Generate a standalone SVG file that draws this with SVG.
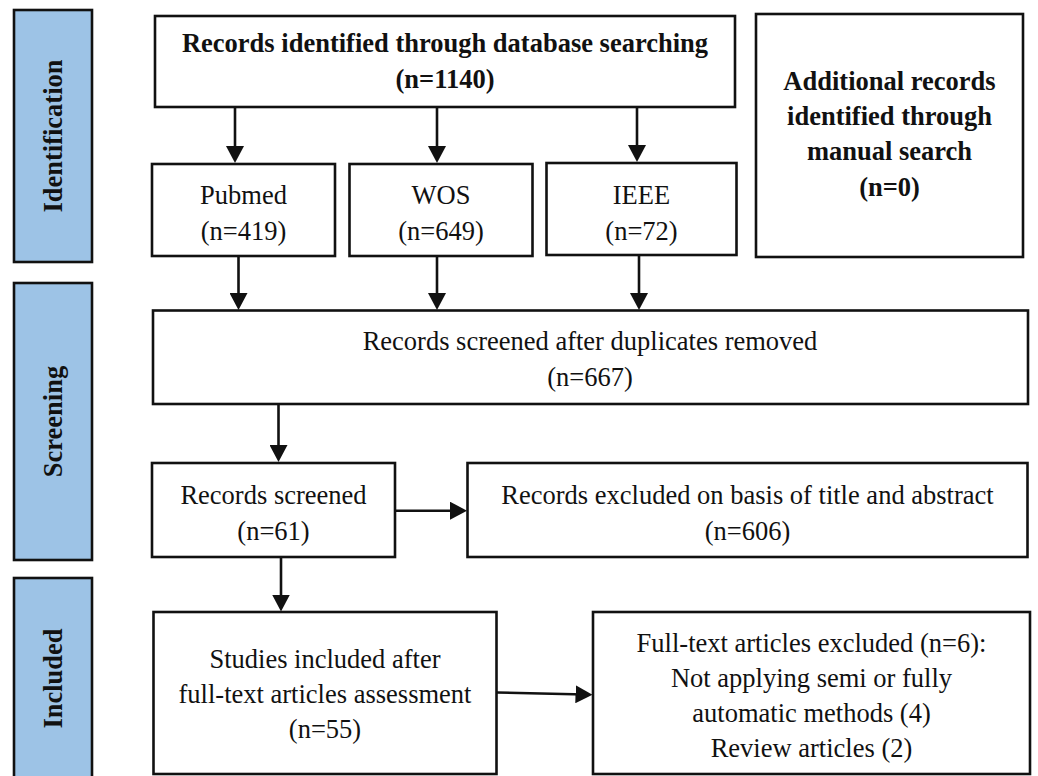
<svg xmlns="http://www.w3.org/2000/svg" width="1038" height="776" viewBox="0 0 1038 776">
  <style>
    .box { fill: #ffffff; stroke: #111111; stroke-width: 2.6; }
    .bar { fill: #9dc3e6; stroke: #111111; stroke-width: 2.6; }
    .t { font-family: "Liberation Serif", "Times New Roman", serif; font-size: 26.5px; fill: #111111; text-anchor: middle; }
    .b { font-weight: bold; }
    .conn { stroke: #111111; stroke-width: 2.6; fill: none; marker-end: url(#arrow); }
  </style>
  <defs>
    <marker id="arrow" markerUnits="userSpaceOnUse" viewBox="0 0 17 18" refX="9" refY="9" markerWidth="17" markerHeight="18" orient="auto">
      <path d="M0,0 L17,9 L0,18 z" fill="#111111"/>
    </marker>
  </defs>
  <rect width="1038" height="776" fill="#ffffff"/>

  <g id="phase-identification">
    <rect class="bar" x="14" y="10" width="78" height="252"/>
    <text class="t b" transform="translate(61.5,136) rotate(-90)">Identification</text>
  </g>
  <g id="phase-screening">
    <rect class="bar" x="14" y="283" width="78" height="277"/>
    <text class="t b" transform="translate(61.5,421.5) rotate(-90)">Screening</text>
  </g>
  <g id="phase-included">
    <rect class="bar" x="14" y="578" width="78" height="202"/>
    <text class="t b" transform="translate(61.5,678.5) rotate(-90)">Included</text>
  </g>

  <g id="connectors">
    <line class="conn" x1="235" y1="108" x2="235" y2="155"/>
    <line class="conn" x1="437" y1="108" x2="437" y2="155"/>
    <line class="conn" x1="637" y1="108" x2="637" y2="154"/>
    <line class="conn" x1="238.5" y1="256" x2="238.5" y2="302"/>
    <line class="conn" x1="437" y1="256" x2="437" y2="302"/>
    <line class="conn" x1="639" y1="256" x2="639" y2="302"/>
    <line class="conn" x1="278.5" y1="405" x2="278.5" y2="454"/>
    <line class="conn" x1="395" y1="510.7" x2="459" y2="510.7"/>
    <line class="conn" x1="281" y1="557" x2="281" y2="603.5"/>
    <line class="conn" x1="497" y1="692.5" x2="584.5" y2="694.5"/>
  </g>

  <g id="node-database">
    <rect class="box" x="155" y="16" width="580" height="91"/>
    <text class="t b" x="445" y="52">Records identified through database searching</text>
    <text class="t b" x="445" y="88">(n=1140)</text>
  </g>
  <g id="node-additional">
    <rect class="box" x="756" y="14" width="267" height="243"/>
    <text class="t b" x="889.5" y="90">Additional records</text>
    <text class="t b" x="889.5" y="124.5">identified through</text>
    <text class="t b" x="889.5" y="160">manual search</text>
    <text class="t b" x="889.5" y="196">(n=0)</text>
  </g>
  <g id="node-pubmed">
    <rect class="box" x="152" y="164" width="183" height="92"/>
    <text class="t" x="243.5" y="204">Pubmed</text>
    <text class="t" x="243.5" y="240">(n=419)</text>
  </g>
  <g id="node-wos">
    <rect class="box" x="349.5" y="164" width="183" height="92"/>
    <text class="t" x="441" y="204">WOS</text>
    <text class="t" x="441" y="240">(n=649)</text>
  </g>
  <g id="node-ieee">
    <rect class="box" x="546.5" y="163" width="190" height="92"/>
    <text class="t" x="641.5" y="204">IEEE</text>
    <text class="t" x="641.5" y="240">(n=72)</text>
  </g>
  <g id="node-dedup">
    <rect class="box" x="153" y="310.5" width="875" height="93.5"/>
    <text class="t" x="590" y="350">Records screened after duplicates removed</text>
    <text class="t" x="590" y="386">(n=667)</text>
  </g>
  <g id="node-screened">
    <rect class="box" x="152" y="463" width="243" height="94"/>
    <text class="t" x="273.5" y="504">Records screened</text>
    <text class="t" x="273.5" y="540">(n=61)</text>
  </g>
  <g id="node-excluded">
    <rect class="box" x="467.5" y="463" width="560" height="94"/>
    <text class="t" x="747.5" y="503.5">Records excluded on basis of title and abstract</text>
    <text class="t" x="747.5" y="539.5">(n=606)</text>
  </g>
  <g id="node-included">
    <rect class="box" x="153.5" y="612" width="343" height="162"/>
    <text class="t" x="325" y="668">Studies included after</text>
    <text class="t" x="325" y="703">full-text articles assessment</text>
    <text class="t" x="325" y="738">(n=55)</text>
  </g>
  <g id="node-fulltext-excluded">
    <rect class="box" x="593" y="612" width="437" height="162"/>
    <text class="t" x="811.5" y="652">Full-text articles excluded (n=6):</text>
    <text class="t" x="811.5" y="687">Not applying semi or fully</text>
    <text class="t" x="811.5" y="722">automatic methods (4)</text>
    <text class="t" x="811.5" y="757">Review articles (2)</text>
  </g>
</svg>
